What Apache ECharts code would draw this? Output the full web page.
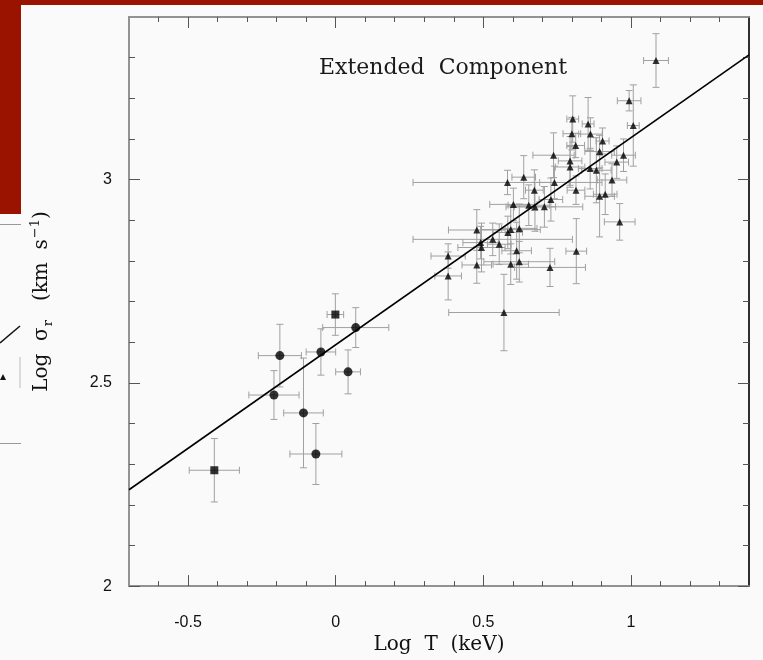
<!DOCTYPE html>
<html>
<head>
<meta charset="utf-8">
<script src="https://cdn.jsdelivr.net/npm/echarts@6/dist/echarts.min.js"></script>
<style>
html, body { margin: 0; padding: 0; background: #fafafa; }
#chart { position: absolute; left: 0; top: 0; width: 763px; height: 660px; }
.redTop { position: absolute; left: 0; top: 0; width: 763px; height: 5px; background: #9a1200; }
.redLeft { position: absolute; left: 0; top: 0; width: 21px; height: 214px; background: #9a1200; }
</style>
</head>
<body>
<div id="chart"></div>
<div class="redTop"></div>
<div class="redLeft"></div>
<script>
// axis ranges and ticks
var xMin = -0.7, xMax = 1.4;
var yMin = 2, yMax = 3.4;
var xMajor = [-0.5, 0, 0.5, 1];
var xMinor = [-0.6, -0.4, -0.3, -0.2, -0.1, 0.1, 0.2, 0.3, 0.4, 0.6, 0.7, 0.8, 0.9, 1.1, 1.2, 1.3];
var yMajor = [2, 2.5, 3];
var yMinor = [2.1, 2.2, 2.3, 2.4, 2.6, 2.7, 2.8, 2.9, 3.1, 3.2, 3.3];

// filled circles
var circX = [-0.209, -0.189, -0.109, -0.067, -0.050, 0.068, 0.042];
var circY = [2.470, 2.567, 2.426, 2.325, 2.576, 2.636, 2.527];
var circXErr = [0.085, 0.073, 0.067, 0.088, 0.050, 0.112, 0.042];
var circYErr = [0.060, 0.077, 0.135, 0.075, 0.057, 0.049, 0.054];

// filled squares
var sqX = [-0.411, -0.001];
var sqY = [2.285, 2.668];
var sqXErr = [0.085, 0.028];
var sqYErr = [0.078, 0.051];

// triangles
var triX = [0.570, 0.381, 0.381, 0.478, 0.491, 0.494, 0.478, 0.532, 0.554, 0.583,
            0.593, 0.622, 0.613, 0.593, 0.622, 0.726, 0.815, 0.602, 0.654, 0.675,
            0.707, 0.582, 0.637, 0.673, 0.741, 0.729, 0.738, 0.794, 0.794, 0.814,
            0.862, 0.883, 0.894, 0.913, 0.894, 0.803, 0.855, 0.800, 0.863, 0.813,
            0.904, 0.975, 0.952, 0.936, 0.962, 0.994, 1.008, 1.085];
var triY = [2.673, 2.812, 2.763, 2.876, 2.845, 2.833, 2.790, 2.853, 2.841, 2.870,
            2.877, 2.880, 2.825, 2.792, 2.798, 2.784, 2.824, 2.939, 2.937, 2.933,
            2.933, 2.993, 3.006, 2.974, 2.993, 2.951, 3.060, 3.046, 3.031, 2.974,
            3.027, 3.023, 2.959, 2.964, 3.069, 3.149, 3.137, 3.113, 3.112, 3.084,
            3.095, 3.060, 3.043, 2.999, 2.896, 3.194, 3.133, 3.293];
var triXErr = [0.187, 0.058, 0.045, 0.096, 0.060, 0.080, 0.050, 0.270, 0.040, 0.050,
               0.100, 0.060, 0.050, 0.060, 0.120, 0.120, 0.035, 0.080, 0.070, 0.070,
               0.130, 0.320, 0.040, 0.030, 0.050, 0.040, 0.070, 0.040, 0.050, 0.030,
               0.040, 0.050, 0.050, 0.040, 0.050, 0.020, 0.020, 0.030, 0.040, 0.030,
               0.022, 0.040, 0.040, 0.050, 0.052, 0.040, 0.020, 0.042];
var triYErr = [0.094, 0.030, 0.059, 0.050, 0.040, 0.060, 0.045, 0.040, 0.050, 0.040,
               0.060, 0.060, 0.070, 0.050, 0.050, 0.047, 0.080, 0.040, 0.050, 0.060,
               0.050, 0.030, 0.053, 0.050, 0.040, 0.053, 0.055, 0.060, 0.050, 0.035,
               0.050, 0.080, 0.100, 0.050, 0.040, 0.057, 0.065, 0.040, 0.040, 0.030,
               0.032, 0.040, 0.040, 0.040, 0.045, 0.025, 0.100, 0.066];

// best-fit line end points
var fitX = [-0.7, 1.4];
var fitY = [2.237, 3.307];

function pack(xs, ys, xe, ye) {
    var out = [];
    for (var i = 0; i < xs.length; i++) {
        out.push([xs[i], ys[i], xe ? xe[i] : 0, ye ? ye[i] : 0]);
    }
    return out;
}

var errData = pack(circX, circY, circXErr, circYErr)
    .concat(pack(sqX, sqY, sqXErr, sqYErr))
    .concat(pack(triX, triY, triXErr, triYErr));

var axisGray = '#8c8c8c';
var tickGray = '#555';
var labelFont = { color: '#111', fontSize: 16, fontFamily: 'Liberation Sans' };

function xAxisDef(pos, ticks, len, showLabel) {
    return {
        type: 'value', min: xMin, max: xMax, position: pos,
        axisLine: { show: true, onZero: false, lineStyle: { color: axisGray, width: 1.5 } },
        axisTick: { show: true, inside: true, length: len, customValues: ticks,
            lineStyle: { color: tickGray, width: 1 } },
        axisLabel: Object.assign({ show: showLabel, margin: 28, customValues: xMajor,
            formatter: function (v) { return String(v); } }, labelFont),
        splitLine: { show: false }
    };
}

function yAxisDef(pos, ticks, len, showLabel, lineColor) {
    return {
        type: 'value', min: yMin, max: yMax, position: pos,
        axisLine: { show: true, onZero: false, lineStyle: { color: lineColor, width: 1.5 } },
        axisTick: { show: true, inside: true, length: len, customValues: ticks,
            lineStyle: { color: tickGray, width: 1 } },
        axisLabel: Object.assign({ show: showLabel, margin: 17, customValues: yMajor,
            formatter: function (v) { return String(v); } }, labelFont),
        splitLine: { show: false }
    };
}

var xAxes = [
    xAxisDef('bottom', xMajor, 11, true),
    xAxisDef('bottom', xMinor, 5, false),
    xAxisDef('top', xMajor, 11, false),
    xAxisDef('top', xMinor, 5, false)
];
xAxes[0].name = 'Log  T  (keV)';
xAxes[0].nameLocation = 'middle';
xAxes[0].nameGap = 45;
xAxes[0].nameTextStyle = { fontFamily: 'DejaVu Serif', fontSize: 20, color: '#111' };

var yAxes = [
    yAxisDef('left', yMajor, 11, true, axisGray),
    yAxisDef('left', yMinor, 6, false, axisGray),
    yAxisDef('right', yMajor, 11, false, '#222'),
    yAxisDef('right', yMinor, 6, false, '#222')
];
yAxes[0].name = '{n|Log  σ}{sub|r}{n|   (km  s}{sup|−1}{n|)}';
yAxes[0].nameLocation = 'middle';
yAxes[0].nameGap = 72;
yAxes[0].nameTextStyle = {
    fontFamily: 'DejaVu Serif', fontSize: 20, color: '#111',
    rich: {
        n: { fontFamily: 'DejaVu Serif', fontSize: 20, color: '#111', lineHeight: 30, verticalAlign: 'middle' },
        sub: { fontFamily: 'DejaVu Serif', fontSize: 13, color: '#111', lineHeight: 30, verticalAlign: 'bottom', padding: [0, 0, 2, 1] },
        sup: { fontFamily: 'DejaVu Serif', fontSize: 13, color: '#111', lineHeight: 30, verticalAlign: 'top', padding: [2, 0, 0, 1] }
    }
};

var chart = echarts.init(document.getElementById('chart'));
var option = {
    backgroundColor: 'transparent',
    animation: false,
    title: {
        text: 'Extended  Component',
        left: 314, top: 52,
        textStyle: { fontFamily: 'DejaVu Serif', fontSize: 22, fontWeight: 'normal', color: '#1a1a1a' }
    },
    grid: { left: 129, right: 14, top: 17, bottom: 72 },
    xAxis: xAxes,
    yAxis: yAxes,
    graphic: [
        { type: 'rect', shape: { x: 0, y: 224, width: 21, height: 1 }, style: { fill: '#999' } },
        { type: 'rect', shape: { x: 0, y: 443, width: 21, height: 1 }, style: { fill: '#999' } },
        { type: 'line', shape: { x1: 0, y1: 343, x2: 20, y2: 326 }, style: { stroke: '#111', lineWidth: 1.5 } },
        { type: 'line', shape: { x1: 20, y1: 357, x2: 20, y2: 388 }, style: { stroke: '#bbb', lineWidth: 1 } },
        { type: 'polygon', shape: { points: [[0, 380], [3, 374], [6, 380]] }, style: { fill: '#111' } }
    ],
    series: [
        {
            type: 'custom', name: 'errors', xAxisIndex: 0, yAxisIndex: 0,
            data: errData, encode: { x: 0, y: 1 }, clip: true, z: 1,
            renderItem: function (params, api) {
                var x = api.value(0), y = api.value(1), dx = api.value(2), dy = api.value(3);
                var l = api.coord([x - dx, y]), r = api.coord([x + dx, y]);
                var t = api.coord([x, y + dy]), b = api.coord([x, y - dy]);
                var c = 3.5;
                var st = { stroke: '#a0a0a0', lineWidth: 1 };
                return {
                    type: 'group',
                    children: [
                        { type: 'line', shape: { x1: l[0], y1: l[1], x2: r[0], y2: r[1] }, style: st },
                        { type: 'line', shape: { x1: l[0], y1: l[1] - c, x2: l[0], y2: l[1] + c }, style: st },
                        { type: 'line', shape: { x1: r[0], y1: r[1] - c, x2: r[0], y2: r[1] + c }, style: st },
                        { type: 'line', shape: { x1: t[0], y1: t[1], x2: b[0], y2: b[1] }, style: st },
                        { type: 'line', shape: { x1: t[0] - c, y1: t[1], x2: t[0] + c, y2: t[1] }, style: st },
                        { type: 'line', shape: { x1: b[0] - c, y1: b[1], x2: b[0] + c, y2: b[1] }, style: st }
                    ]
                };
            }
        },
        {
            type: 'line', name: 'fit', data: fitX.map(function (v, i) { return [v, fitY[i]]; }),
            symbol: 'none', lineStyle: { color: '#000', width: 1.6 }, z: 2
        },
        {
            type: 'scatter', name: 'circles', data: pack(circX, circY),
            symbol: 'circle', symbolSize: 9, itemStyle: { color: '#000' }, z: 3
        },
        {
            type: 'scatter', name: 'squares', data: pack(sqX, sqY),
            symbol: 'rect', symbolSize: 8, itemStyle: { color: '#000' }, z: 3
        },
        {
            type: 'scatter', name: 'triangles', data: pack(triX, triY),
            symbol: 'triangle', symbolSize: 7, itemStyle: { color: '#000' }, z: 3
        }
    ]
};
chart.setOption(option);
</script>
</body>
</html>
